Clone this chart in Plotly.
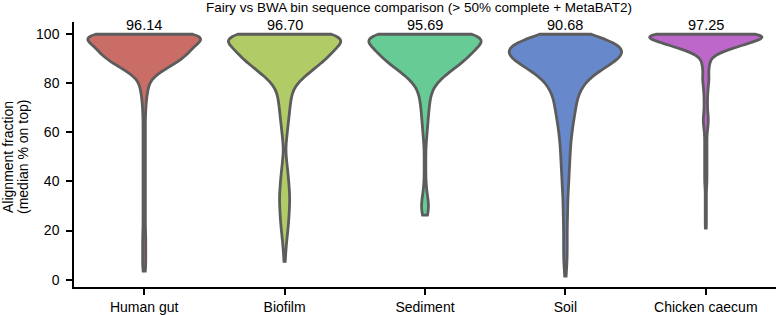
import numpy as np
import plotly.graph_objects as go

categories = ["Human gut", "Biofilm", "Sediment", "Soil", "Chicken caecum"]
median_labels = [96.14, 96.70, 95.69, 90.68, 97.25]

# Alignment-fraction values (bin value, number of bins)
hg_values = [100, 99, 98, 97, 96, 95, 94, 93, 92, 91, 90, 89, 88, 87, 86, 85, 84, 83, 82, 81, 80,
             78, 75, 72, 69, 66, 63, 60, 57, 54, 51, 48, 45, 42, 39, 36, 33, 30, 27, 24, 21,
             18, 15, 12, 9, 6, 3.5]
hg_counts = [150, 42, 44, 45, 45, 44, 42, 40, 38, 36, 34, 31, 27, 23, 19, 15, 11, 8, 6, 5, 4,
             10, 7, 5, 4, 3, 3, 3, 3, 3, 3, 3, 3, 3, 3, 3, 3, 3, 3, 3, 3,
             4, 4, 4, 4, 4, 3]

bf_values = [100, 99, 98, 97, 96, 95, 94, 93, 92, 91, 90, 89, 88, 87, 86, 85, 84, 83, 82, 81, 80, 79,
             77, 74, 71, 68, 65, 62, 59, 56, 53, 50, 47, 44, 41, 38, 35, 32, 29, 26, 23, 20, 17, 14, 11, 7.5]
bf_counts = [150, 42, 44, 45, 45, 44, 43, 41, 39, 37, 35, 33, 30, 27, 25, 22, 20, 17, 14, 12, 10, 9,
             18, 16, 14, 12, 10, 8, 6, 4, 2, 4, 6, 8, 10, 11, 13, 13, 12, 11, 10, 8, 6, 4, 3, 2]

sd_values = [100, 99, 98, 97, 96, 95, 94, 93, 92, 91, 90, 89, 88, 87, 86, 85, 84, 83, 82, 81, 80, 79,
             77, 74, 71, 68, 65, 62, 59, 56, 53, 50, 47, 44, 41, 38, 35, 32, 29, 26.3]
sd_counts = [150, 42, 44, 45, 45, 44, 43, 41, 39, 37, 35, 33, 30, 27, 24, 21, 19, 16, 13, 11, 9, 8,
             16, 13, 11, 9, 8, 6, 5, 3, 2, 2, 2, 2, 2, 3, 5, 9, 10, 7]

sl_values = [100, 99, 98, 97, 96, 95, 94, 93, 92, 91, 90, 89, 88, 87, 86, 85, 84, 83, 82, 81, 80, 79,
             77, 74, 71, 68, 65, 62, 59, 56, 53, 50, 47, 44, 41, 38, 35, 32, 29, 26, 23, 20, 17, 14,
             11, 8, 5, 1.4]
sl_counts = [10, 34, 39, 42, 45, 46, 47, 47, 46, 44, 42, 39, 35, 31, 27, 24, 21, 19, 17, 15, 14, 13,
             32, 25, 24, 22, 18, 16, 14, 12, 11, 10, 10, 8, 8, 7, 6, 5, 5, 5, 4, 4, 4, 4,
             4, 4, 3, 2]

ck_values = [100, 99, 98, 97, 96, 95, 94, 93, 92, 91, 90, 89, 88, 87, 86, 85,
             83, 81, 79, 77, 75, 73, 71, 69, 67, 65, 63, 61, 59, 57, 55, 53, 51, 49, 47, 45,
             43, 41, 39, 37, 35, 33, 31, 29, 27, 25, 23, 21]
ck_counts = [120, 46, 46, 42, 36, 30, 22, 14, 8, 5, 4, 4, 3, 3, 3, 3,
             6, 6, 4, 4, 3, 3, 3, 3, 4, 5, 4, 3, 2, 2, 2, 2, 2, 2, 2, 2,
             2, 2, 2, 1, 1, 1, 1, 1, 1, 1, 1, 1]

series_values = [hg_values, bf_values, sd_values, sl_values, ck_values]
series_counts = [hg_counts, bf_counts, sd_counts, sl_counts, ck_counts]
bandwidths = [2.5, 3.0, 3.0, 3.5, 1.8]

colors = ["#cb6d67", "#b1cb67", "#67cb95", "#6789cb", "#bd67cb"]
edge = "#5c5c5c"
FONT = "Liberation Sans, Arial, Helvetica, sans-serif"

fig = go.Figure()
for cat, vals, cnts, bw, col in zip(categories, series_values, series_counts, bandwidths, colors):
    assert len(vals) == len(cnts)
    y = np.repeat(np.array(vals, dtype=float), cnts)
    fig.add_trace(go.Violin(
        x=[cat] * len(y), y=y, name=cat,
        bandwidth=bw, spanmode="hard", scalemode="width", width=0.8,
        points=False, box_visible=False, meanline_visible=False,
        fillcolor=col, opacity=1, line=dict(color=edge, width=2.8),
        hoverinfo="skip", showlegend=False,
    ))

for cat, m in zip(categories, median_labels):
    fig.add_annotation(x=cat, y=103.7, xref="x", yref="y", text=f"{m:.2f}",
                       showarrow=False, yanchor="middle", xanchor="center",
                       font=dict(size=14.5, color="black", family=FONT))

# y-axis title (two lines)
fig.add_annotation(x=(8 - 74) / 702, y=(287 - 157) / 265, xref="paper", yref="paper",
                   text="Alignment fraction", textangle=-90, showarrow=False,
                   xanchor="center", yanchor="middle",
                   font=dict(size=14, color="black", family=FONT))
fig.add_annotation(x=(23 - 74) / 702, y=(287 - 157) / 265, xref="paper", yref="paper",
                   text="(median % on top)", textangle=-90, showarrow=False,
                   xanchor="center", yanchor="middle",
                   font=dict(size=14, color="black", family=FONT))

fig.update_layout(
    width=778, height=315,
    margin=dict(l=74, r=2, t=22, b=28, autoexpand=False),
    plot_bgcolor="white", paper_bgcolor="white",
    font=dict(family=FONT, size=14, color="black"),
    showlegend=False,
    violinmode="overlay",
    title=dict(text="Fairy vs BWA bin sequence comparison (> 50% complete + MetaBAT2)",
               x=419 / 778, xanchor="center", xref="container",
               y=1 - 7 / 315, yanchor="middle", yref="container",
               font=dict(size=13.5, color="black", family=FONT)),
)
fig.update_xaxes(type="category", categoryorder="array", categoryarray=categories,
                 range=[-0.5, 4.5], showline=True, linecolor="black", linewidth=1.5,
                 ticks="outside", ticklen=6, tickwidth=1.5, tickcolor="black",
                 showgrid=False, zeroline=False, tickfont=dict(size=14),
                 ticklabelstandoff=0, automargin=False)
fig.update_yaxes(range=[-3, 105], tickvals=[0, 20, 40, 60, 80, 100],
                 showline=True, linecolor="black", linewidth=1.5,
                 ticks="outside", ticklen=6, tickwidth=1.5, tickcolor="black",
                 showgrid=False, zeroline=False, tickfont=dict(size=14),
                 ticklabelstandoff=4, automargin=False)

fig.write_html("out.html", config={"displayModeBar": False},
               post_script="document.body.style.margin='0';document.body.style.overflow='hidden';")
